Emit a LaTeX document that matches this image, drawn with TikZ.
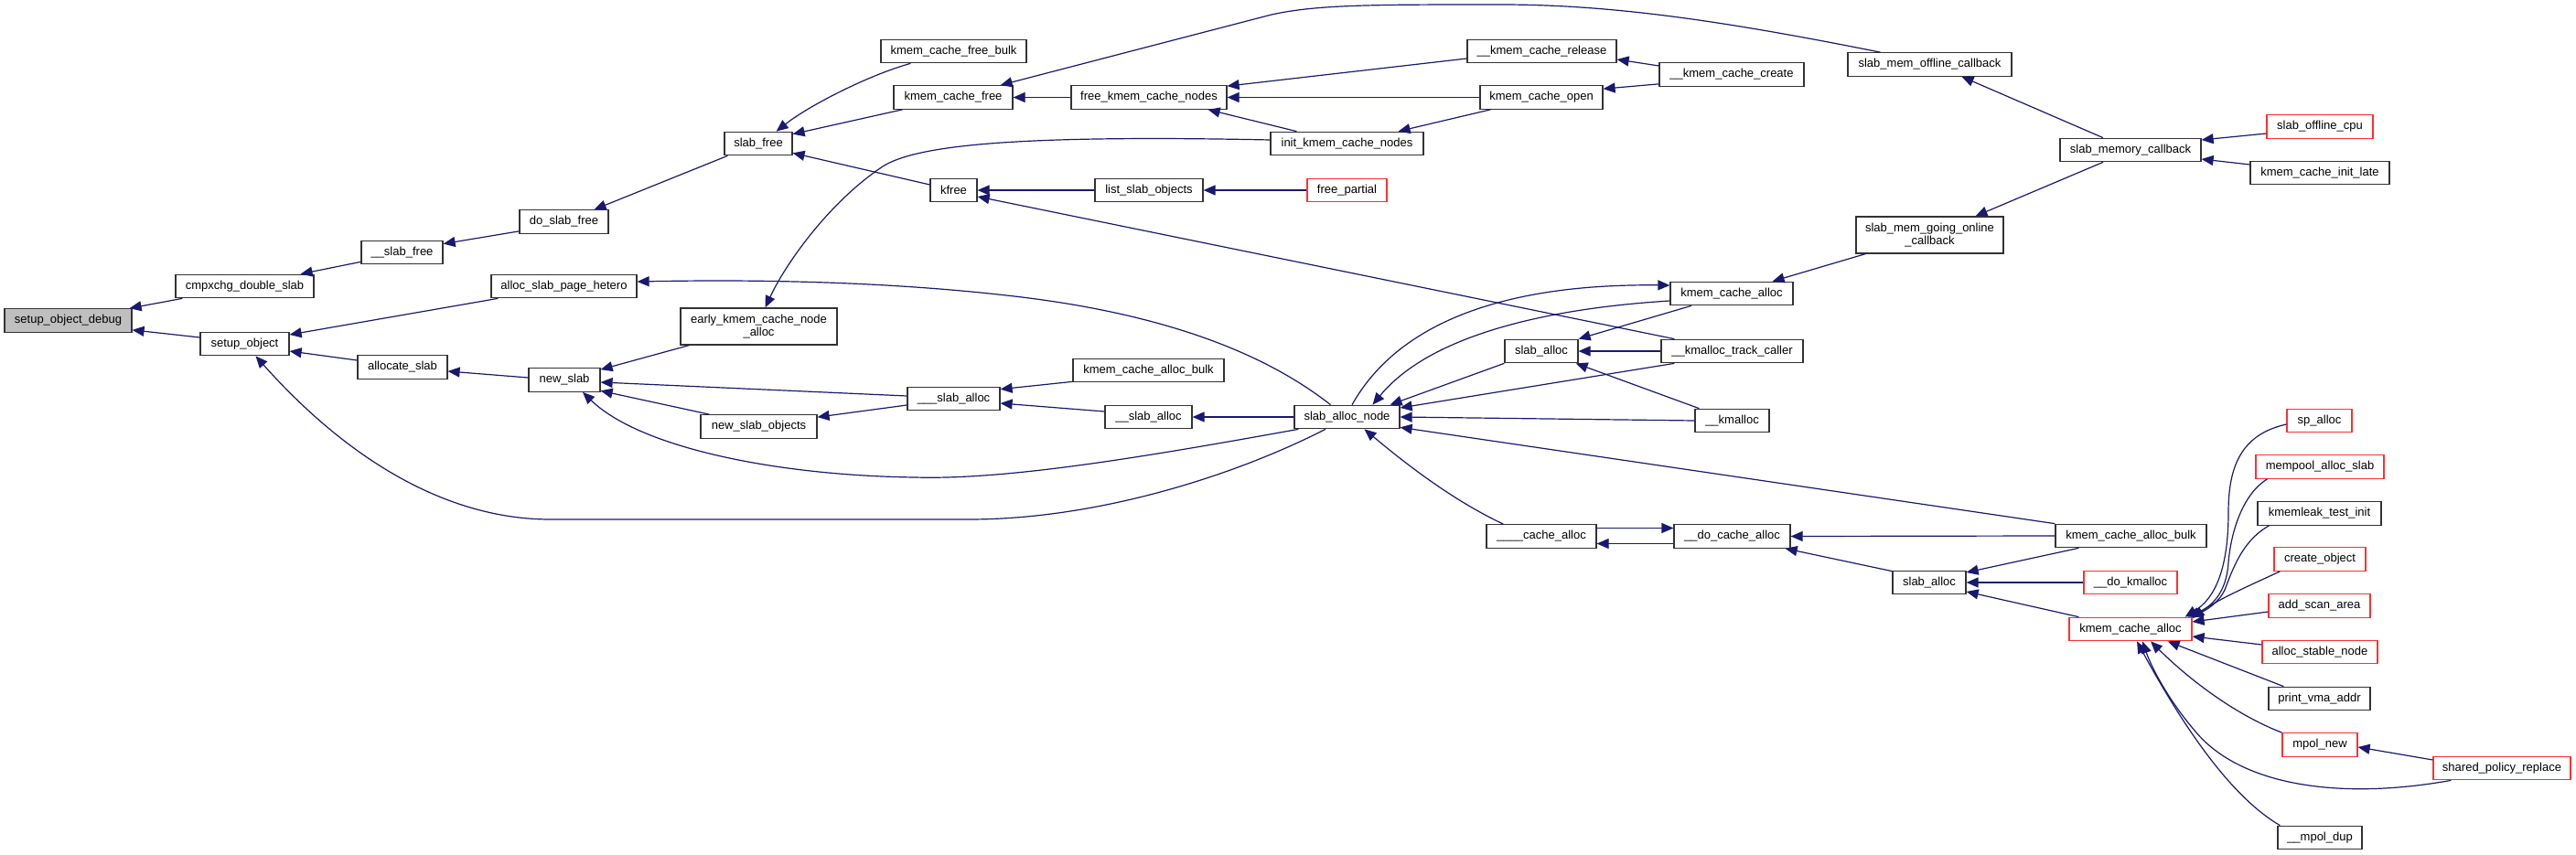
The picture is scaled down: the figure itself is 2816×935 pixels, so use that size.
\documentclass[tikz,border=0pt]{standalone}
\usepackage{fontspec}
\setmainfont{Liberation Sans}
\usetikzlibrary{arrows.meta,calc}
\definecolor{edgeblue}{HTML}{191970}
\definecolor{boxred}{HTML}{FF3030}
\definecolor{boxgray}{HTML}{BFBFBF}
\tikzset{
  box/.style={draw=black!80, line width=0.6pt, fill=white, inner sep=0pt,
    minimum height=12.75pt, align=center, font=\fontsize{6.5}{7.2}\selectfont},
  redbox/.style={box, draw=boxred},
  e/.style={draw=edgeblue, line width=0.6pt, -{Triangle[length=6.5pt,width=5.5pt]}}
}
\newcommand{\bx}[6][box]{\node[#1, minimum width=#5*0.5pt] (#2) at (#3,#4) {#6};}
\begin{document}
\begin{tikzpicture}[x=0.5pt,y=-0.5pt]
\fill[white] (0,0) rectangle (2816,935);
\useasboundingbox (0,0) rectangle (2816,935);
% nodes
\bx[box, fill=boxgray]{sod}{74.5}{350.5}{139}{setup\_object\_debug}
\bx{cmp}{267.5}{313}{151}{cmpxchg\_double\_slab}
\bx{sfreeB}{439.5}{276}{89}{\_\_slab\_free}
\bx{dsf}{616.5}{242.5}{97}{do\_slab\_free}
\bx{sfree}{829}{157}{74}{slab\_free}
\bx{kcfb}{1042.5}{56}{159}{kmem\_cache\_free\_bulk}
\bx{kcf}{1042}{106.5}{130}{kmem\_cache\_free}
\bx{fkcn}{1256}{106.5}{170}{free\_kmem\_cache\_nodes}
\bx{kfree}{1042.5}{208}{51}{kfree}
\bx{lso}{1256}{208}{118}{list\_slab\_objects}
\bx{ikcn}{1472.5}{157}{167}{init\_kmem\_cache\_nodes}
\bx{kcr}{1685.5}{56}{163}{\_\_kmem\_cache\_release}
\bx{kcc}{1893}{81.5}{158}{\_\_kmem\_cache\_create}
\bx{kco}{1685}{106.5}{134}{kmem\_cache\_open}
\bx[redbox]{fp}{1472.5}{208}{87}{free\_partial}
\bx{smoc}{2109.5}{70.5}{179}{slab\_mem\_offline\_callback}
\bx{smc}{2329}{164}{154}{slab\_memory\_callback}
\bx[redbox]{soc}{2536}{138.5}{116}{slab\_offline\_cpu}
\bx{kcil}{2536}{189}{152}{kmem\_cache\_init\_late}
\bx[box, minimum height=20pt]{smgoc}{2109.5}{257}{161}{slab\_mem\_going\_online\\\_callback}
\bx{kca}{1893}{321}{134}{kmem\_cache\_alloc}
\bx{asph}{616.5}{313}{159}{alloc\_slab\_page\_hetero}
\bx{so}{267.5}{376}{97}{setup\_object}
\bx{as}{440}{401.5}{98}{allocate\_slab}
\bx{ns}{617}{415.5}{78}{new\_slab}
\bx[box, minimum height=20pt]{ekcna}{829.5}{357}{171}{early\_kmem\_cache\_node\\\_alloc}
\bx{kcab}{1255.5}{405}{165}{kmem\_cache\_alloc\_bulk}
\bx{tsa}{1042.5}{436}{101}{\_\_\_slab\_alloc}
\bx{dsa}{1255.5}{456}{95}{\_\_slab\_alloc}
\bx{nso}{829.5}{466.5}{127}{new\_slab\_objects}
\bx{san}{1472.5}{456}{115}{slab\_alloc\_node}
\bx{sa}{1685}{384}{80}{slab\_alloc}
\bx{kmtc}{1893.5}{384}{155}{\_\_kmalloc\_track\_caller}
\bx{km}{1893.5}{460}{81}{\_\_kmalloc}
\bx{fca}{1685}{586.5}{120}{\_\_\_\_cache\_alloc}
\bx{dca}{1893.5}{586.5}{127}{\_\_do\_cache\_alloc}
\bx{kcabB}{2329.5}{586}{165}{kmem\_cache\_alloc\_bulk}
\bx{saB}{2109}{637}{80}{slab\_alloc}
\bx[redbox]{dkm}{2329}{637}{102}{\_\_do\_kmalloc}
\bx[redbox]{kcaB}{2329}{688}{134}{kmem\_cache\_alloc}
\bx[redbox]{spa}{2535.5}{460}{71}{sp\_alloc}
\bx[redbox]{mas}{2536}{510.5}{140}{mempool\_alloc\_slab}
\bx{kti}{2535.5}{561.5}{135}{kmemleak\_test\_init}
\bx[redbox]{co}{2536}{611.5}{100}{create\_object}
\bx[redbox]{asa}{2535.5}{662.5}{111}{add\_scan\_area}
\bx[redbox]{asn}{2536}{713}{126}{alloc\_stable\_node}
\bx{pva}{2535.5}{764}{111}{print\_vma\_addr}
\bx[redbox]{mpn}{2536}{814.5}{82}{mpol\_new}
\bx[redbox]{spr}{2735}{840}{150}{shared\_policy\_replace}
\bx{mpd}{2536}{916}{92}{\_\_mpol\_dup}
% edges (caller -> callee)
\draw[e] ($(cmp.south west)+(8,0)$) -- ($(sod.north east)+(-3,0)$);
\draw[e] ($(so.west)+(0,-7)$) -- ($(sod.south east)+(0,-3)$);
\draw[e] ($(sfreeB.south west)+(0,-3)$) -- ($(cmp.north east)+(-15,0)$);
\draw[e] ($(dsf.south west)+(0,-3)$) -- ($(sfreeB.north east)+(0,4)$);
\draw[e] ($(sfree.south west)+(4,0)$) -- ($(dsf.north east)+(-16,0)$);
\draw[e] ($(kcfb.south west)+(33,0)$) .. controls (950,82) and (885,115) .. ($(sfree.north east)+(-18,0)$);
\draw[e] ($(kcf.south west)+(10,0)$) -- ($(sfree.north east)+(0,3)$);
\draw[e] ($(kfree.west)+(0,-6)$) -- ($(sfree.south east)+(0,-3)$);
\draw[e] (fkcn.west) -- (kcf.east);
\draw[e] ($(smoc.north)+(-54,0)$) .. controls (1880,22) and (1760,5) .. (1640,5) .. controls (1500,5) and (1440,5) .. (1390,16) -- ($(kcf.north east)+(-14,0)$);
\draw[e] ($(kcr.west)+(0,8)$) -- ($(fkcn.north east)+(0,1)$);
\draw[e] (kco.west) -- (fkcn.east);
\draw[e] ($(ikcn.north west)+(29,0)$) -- ($(fkcn.south east)+(-21,0)$);
\draw[e] ($(kcc.west)+(0,-9.5)$) -- ($(kcr.east)+(0,9)$);
\draw[e] ($(kcc.south west)+(0,-3)$) -- ($(kco.north east)+(0,4)$);
\draw[e] ($(kco.south west)+(12,0)$) -- ($(ikcn.north east)+(-28,0)$);
\draw[e] (lso.west) -- (kfree.east);
\draw[e] (fp.west) -- (lso.east);
\draw[e] ($(kmtc.north west)+(15,0)$) -- ($(kfree.east)+(0,7)$);
\draw[e] ($(ikcn.west)+(0,-4)$) .. controls (1100,147) and (1000,160) .. (965,182) .. controls (905,222) and (858,290) .. ($(ekcna.north)+(7,0)$);
\draw[e] ($(smc.north)+(-30,0)$) -- ($(smoc.south)+(35,0)$);
\draw[e] ($(smc.south)+(-30,0)$) -- ($(smgoc.north)+(50,0)$);
\draw[e] ($(soc.west)+(0,7.5)$) -- ($(smc.east)+(0,-11)$);
\draw[e] ($(kcil.west)+(0,-9)$) -- ($(smc.east)+(0,10)$);
\draw[e] ($(smgoc.south west)+(11,0)$) -- ($(kca.north east)+(-23,0)$);
\draw[e] ($(asph.south west)+(8,0)$) -- ($(so.east)+(0,-10)$);
\draw[e] ($(san.north)+(-18,0)$) .. controls (1400,400) and (1300,345) .. (1100,323) .. controls (950,306) and (800,306) .. ($(asph.east)+(0,-5)$);
\draw[e] ($(as.west)+(0,-7.5)$) -- ($(so.east)+(0,8)$);
\draw[e] ($(san.south)+(-23.5,0)$) .. controls (1350,520) and (1200,568) .. (1059,568) -- (602,568) .. controls (470,568) and (360,480) .. ($(so.south)+(12,0)$);
\draw[e] ($(ns.west)+(0,-2.5)$) -- ($(as.east)+(0,4.5)$);
\draw[e] ($(ekcna.south west)+(10,0)$) -- ($(ns.north east)+(0,2)$);
\draw[e] ($(tsa.west)+(0,-3)$) -- ($(ns.east)+(0,2.5)$);
\draw[e] ($(nso.north west)+(10,0)$) -- ($(ns.south east)+(0,-1.5)$);
\draw[e] ($(san.south west)+(5,0)$) .. controls (1250,500) and (1100,525) .. (1000,522) .. controls (850,520) and (700,490) .. ($(ns.south)+(20,0)$);
\draw[e] ($(tsa.west)+(0,7)$) -- ($(nso.north east)+(0,3)$);
\draw[e] ($(kcab.south west)+(0,-1)$) -- ($(tsa.north east)+(0,3)$);
\draw[e] ($(dsa.west)+(0,-6)$) -- ($(tsa.east)+(0,5)$);
\draw[e] (san.west) -- (dsa.east);
\draw[e] ($(san.north)+(5.5,0)$) .. controls (1530,350) and (1650,310) .. ($(kca.west)+(0,-9)$);
\draw[e] ($(kca.west)+(0,8)$) .. controls (1680,338) and (1560,370) .. ($(san.north)+(28,0)$);
\draw[e] ($(kca.south)+(-44,0)$) -- (sa.north east);
\draw[e] (sa.south west) -- ($(san.north east)+(-11,0)$);
\draw[e] (kmtc.west) -- (sa.east);
\draw[e] ($(kmtc.south west)+(15,0)$) -- ($(san.east)+(0,-10)$);
\draw[e] ($(km.north west)+(5,0)$) -- ($(sa.south east)+(-3,0)$);
\draw[e] (km.west) -- (san.east);
\draw[e] (kcabB.north west) -- ($(san.south east)+(0,-2)$);
\draw[e] ($(fca.north west)+(19,0)$) .. controls (1590,548) and (1540,510) .. ($(san.south)+(19,0)$);
\draw[e] ($(fca.east)+(0,-9)$) -- ($(dca.west)+(0,-9)$);
\draw[e] ($(dca.west)+(0,8)$) -- ($(fca.east)+(0,8)$);
\draw[e] (kcabB.west) -- (dca.east);
\draw[e] ($(saB.north west)+(0,1)$) -- ($(dca.south east)+(-6,0)$);
\draw[e] ($(kcabB.south west)+(26,0)$) -- ($(saB.east)+(0,-11)$);
\draw[e] (dkm.west) -- (saB.east);
\draw[e] ($(kcaB.north west)+(11,0)$) -- ($(saB.east)+(0,10)$);
\draw[e] ($(spa.west)+(0,4)$) .. controls (2450,475) and (2436,510) .. (2436,560) .. controls (2436,625) and (2420,655) .. ($(kcaB.north east)+(-8,0)$);
\draw[e] ($(mas.south west)+(13,0)$) .. controls (2448,543) and (2438,590) .. (2436,615) .. controls (2434,648) and (2418,663) .. ($(kcaB.north east)+(-5,0)$);
\draw[e] ($(kti.south west)+(13,0)$) .. controls (2450,592) and (2440,625) .. (2432,645) .. controls (2425,660) and (2410,668) .. ($(kcaB.north east)+(-2,0)$);
\draw[e] ($(co.south west)+(7,0)$) .. controls (2460,640) and (2425,655) .. ($(kcaB.east)+(0,-12)$);
\draw[e] ($(asa.west)+(0,6.5)$) -- ($(kcaB.east)+(0,-8)$);
\draw[e] ($(asn.west)+(0,-8)$) -- ($(kcaB.east)+(0,8)$);
\draw[e] ($(pva.north west)+(17,0)$) -- ($(kcaB.south east)+(-27,0)$);
\draw[e] (mpn.north west) .. controls (2440,780) and (2390,740) .. ($(kcaB.south)+(22,0)$);
\draw[e] ($(spr.west)+(0,-9)$) -- ($(mpn.east)+(0,2.5)$);
\draw[e] ($(spr.south west)+(20,0)$) .. controls (2560,875) and (2450,860) .. (2400,800) .. controls (2370,765) and (2352,730) .. ($(kcaB.south)+(13,0)$);
\draw[e] ($(mpd.north west)+(3,0)$) .. controls (2445,875) and (2395,810) .. ($(kcaB.south)+(7,0)$);
\end{tikzpicture}
\end{document}
